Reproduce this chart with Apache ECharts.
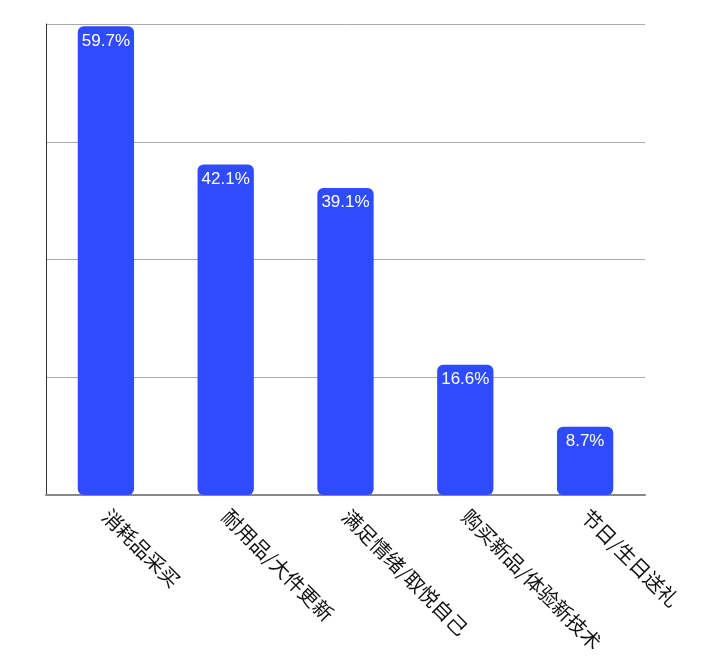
<!DOCTYPE html>
<html><head><meta charset="utf-8">
<script src="https://cdn.jsdelivr.net/npm/echarts@6/dist/echarts.min.js"></script>
<style>html,body{margin:0;padding:0;background:#fff}#c{width:707px;height:670px}</style>
</head><body><div id="c"></div>
<script>
const categories = ['消耗品采买', '耐用品/大件更新', '满足情绪/取悦自己', '购买新品/体验新技术', '节日/生日送礼'];
const values = [59.7, 42.1, 39.1, 16.6, 8.7];
const yMin = 0, yMax = 60, yInterval = 15;

const chart = echarts.init(document.getElementById('c'));
chart.setOption({
  animation: false,
  grid: { left: 46, right: 62, top: 24, bottom: 175 },
  xAxis: {
    type: 'category',
    data: categories,
    axisTick: { show: false },
    axisLine: { lineStyle: { color: '#888', width: 2 } },
    axisLabel: {
      rotate: -45, margin: 18, color: '#111', fontSize: 20,
      fontFamily: 'Noto Sans CJK SC', interval: 0
    }
  },
  yAxis: {
    type: 'value', min: yMin, max: yMax, interval: yInterval,
    axisLabel: { show: false },
    axisTick: { show: false },
    axisLine: { show: true, lineStyle: { color: '#333', width: 1 } },
    splitLine: { lineStyle: { color: '#aaa', width: 1 } }
  },
  series: [{
    type: 'bar',
    data: values,
    barWidth: '47%',
    itemStyle: { color: '#2f4bff', borderRadius: 6 },
    label: {
      show: true, position: 'insideTop', distance: 6,
      color: '#fff', fontSize: 17, fontFamily: 'Liberation Sans',
      formatter: p => p.value.toFixed(1) + '%'
    }
  }]
});
</script></body></html>
